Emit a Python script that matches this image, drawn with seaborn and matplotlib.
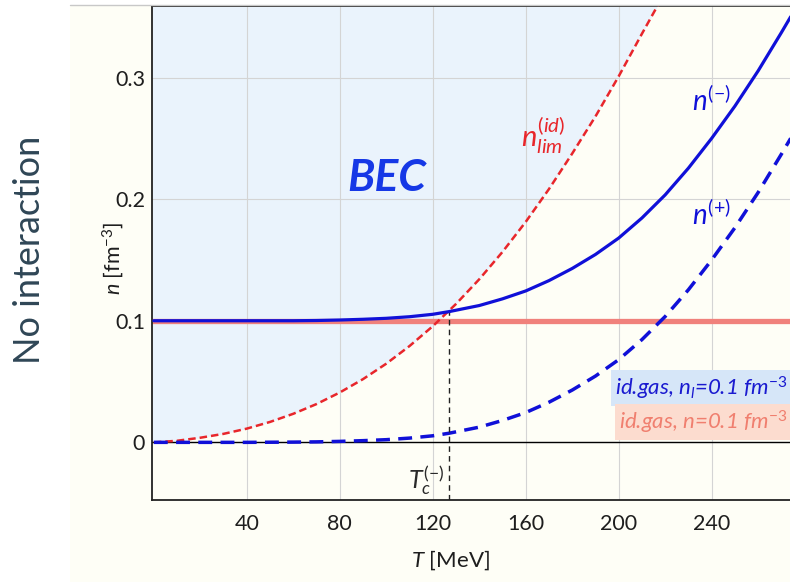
import numpy as np
import pandas as pd
import matplotlib
matplotlib.use("Agg")
import matplotlib.pyplot as plt
import seaborn as sns
from matplotlib.patches import Rectangle
from matplotlib.lines import Line2D

# ---------------- data ----------------
# critical (limiting) density of the ideal gas, n_lim^(id)
T_lim = [0, 10, 20, 30, 40, 50, 60, 70, 80, 90, 100, 110, 120, 130,
         140, 150, 160, 170, 180, 190, 200, 210, 217]
n_lim = [0.0, 0.0013, 0.0038, 0.007, 0.0113, 0.0168, 0.0235, 0.0315,
         0.041, 0.052, 0.0647, 0.0792, 0.0955, 0.1138, 0.1341, 0.1566,
         0.1813, 0.2083, 0.2375, 0.268, 0.301, 0.336, 0.360]

# n^(-)  (solid blue)
T_minus = [0, 20, 40, 60, 70, 80, 90, 100, 110, 120, 127, 140, 150, 160,
           170, 180, 190, 200, 210, 220, 230, 240, 250, 260, 270, 274]
n_minus = [0.100, 0.100, 0.100, 0.100, 0.1002, 0.1006, 0.1012, 0.102,
           0.1033, 0.1053, 0.1075, 0.1125, 0.118, 0.1245, 0.133, 0.143,
           0.1545, 0.168, 0.1845, 0.2035, 0.2255, 0.250, 0.2765, 0.3055,
           0.337, 0.350]

# n^(+)  (dashed blue)
T_plus = [0, 20, 40, 60, 70, 80, 90, 100, 110, 120, 127, 140, 150, 160,
          170, 180, 190, 200, 210, 220, 230, 240, 250, 260, 270, 274]
n_plus = [0.0, 0.0, 0.0, 0.0002, 0.0004, 0.0008, 0.0014, 0.0022, 0.0035,
          0.0054, 0.0075, 0.0125, 0.018, 0.0245, 0.033, 0.043, 0.0545,
          0.068, 0.0845, 0.1035, 0.1255, 0.150, 0.1765, 0.2055, 0.237,
          0.250]

n_fixed = 0.1          # id.gas, n = 0.1 fm^-3
T_c = 127              # T_c^(-)
x_ticks = [40, 80, 120, 160, 200, 240]
y_ticks = [0, 0.1, 0.2, 0.3]
y_tick_labels = ["0", "0.1", "0.2", "0.3"]

# ---------------- style ----------------
sns.set_theme(style="white")
plt.rcParams["font.family"] = ["Lato", "DejaVu Sans"]
plt.rcParams.update({
    "mathtext.fontset": "custom",
    "mathtext.rm": "Lato",
    "mathtext.it": "Lato:italic",
    "mathtext.bf": "Lato:bold",
})

cream = "#fefef6"
bec_blue = "#eaf3fc"
blue = "#1010d8"
red = "#e8262b"
salmon = "#f0817c"

fig = plt.figure(figsize=(7.9, 5.82), dpi=100)
fig.patch.set_facecolor("white")
fig.patches.append(Rectangle((70 / 790, 0), 1 - 70 / 790, 1 - 5 / 582,
                             transform=fig.transFigure, facecolor=cream,
                             edgecolor="none", zorder=-10))
fig.add_artist(Line2D([70 / 790, 1], [1 - 5 / 582] * 2,
                      color="#c8c8c8", lw=1, transform=fig.transFigure))

ax = fig.add_axes([152 / 790, 1 - 500 / 582, 1 - 152 / 790, 494 / 582])
ax.set_facecolor(cream)
xlim = (-0.8, 273.7)
ylim = (-0.0474, 0.3588)
ax.set_xlim(*xlim)
ax.set_ylim(*ylim)

# BEC region (above the limiting curve)
ax.fill_between([xlim[0]] + T_lim, [0.0] + n_lim, ylim[1],
                color=bec_blue, lw=0, zorder=0)

ax.set_axisbelow(True)
ax.grid(True, color="#d4d4d4", lw=0.8)
ax.axhline(0, color="black", lw=1.0, zorder=1.6)

# horizontal id.gas line
ax.axhline(n_fixed, color=salmon, lw=3.8, zorder=2, solid_capstyle="butt")

df_lim = pd.DataFrame({"T": T_lim, "n": n_lim})
df_minus = pd.DataFrame({"T": T_minus, "n": n_minus})
df_plus = pd.DataFrame({"T": T_plus, "n": n_plus})

sns.lineplot(data=df_lim, x="T", y="n", ax=ax, color=red, lw=1.8,
             linestyle=(0, (3.0, 1.6)), zorder=3)
sns.lineplot(data=df_plus, x="T", y="n", ax=ax, color=blue, lw=2.5,
             linestyle=(0, (4.0, 2.4)), zorder=3)
sns.lineplot(data=df_minus, x="T", y="n", ax=ax, color=blue, lw=2.3,
             zorder=4)

# T_c marker line
n_at_tc = n_minus[T_minus.index(T_c)]
ax.vlines(T_c, ylim[0], n_at_tc, color="#222222", lw=1.0,
          linestyles=(0, (4, 3)), zorder=3)

# ticks / spines
ax.set_xticks(x_ticks)
ax.set_yticks(y_ticks)
ax.set_yticklabels(y_tick_labels)
ax.tick_params(axis="both", direction="in", length=5, width=1.2,
               color="black", labelcolor="#1e1e1e", labelsize=15.5)
ax.tick_params(axis="x", pad=10)
ax.tick_params(axis="y", pad=5)
for s in ["left", "bottom", "top"]:
    ax.spines[s].set_color("#222222")
    ax.spines[s].set_linewidth(1.3)
ax.spines["right"].set_visible(False)

ax.set_xlabel(r"$T$ [MeV]", fontsize=16, color="#1e1e1e")
ax.xaxis.set_label_coords(0.467, -0.098)
ax.set_ylabel(r"$n$ [fm$^{-3}$]", fontsize=15.5, color="#1e1e1e")
ax.yaxis.set_label_coords(-0.04, 0.49)

# annotations
ax.text(100.2, 0.217, "BEC", fontsize=32, fontweight="bold",
        fontstyle="italic", color="#1638e6", ha="center", va="center")
ax.text(167.4, 0.2525, r"$n_{lim}^{(id)}$", fontsize=21, color=red,
        ha="center", va="center")
ax.text(240, 0.281, r"$n^{(-)}$", fontsize=20, color=blue,
        ha="center", va="center")
ax.text(240, 0.187, r"$n^{(+)}$", fontsize=20, color=blue,
        ha="center", va="center")
ax.text(117, -0.031, r"$T_c^{(-)}$", fontsize=18, color="#2a2a2a",
        ha="center", va="center")

ax.text(272.6, 0.0447, r"id.gas, $n_l$=0.1 fm$^{-3}$", fontsize=16,
        fontstyle="italic", color="#1a1ad0", ha="right", va="center",
        bbox=dict(boxstyle="square,pad=0.18", fc="#d6e6f8", ec="none"),
        zorder=5)
ax.text(272.6, 0.0167, r"id.gas, $n$=0.1 fm$^{-3}$", fontsize=16,
        fontstyle="italic", color="#f07f6f", ha="right", va="center",
        bbox=dict(boxstyle="square,pad=0.18", fc="#fcdccf", ec="none"),
        zorder=5)

fig.text(30 / 790, 1 - 250 / 582, "No interaction", rotation=90,
         fontsize=26, color="#2f4656", ha="center", va="center")

fig.savefig("out.png", dpi=100, facecolor=fig.get_facecolor())
